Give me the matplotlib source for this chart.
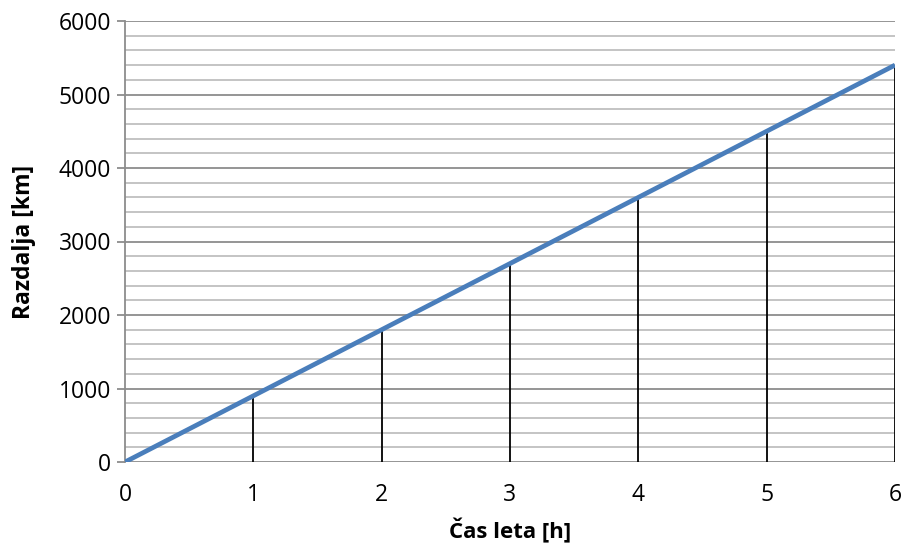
import numpy as np
import matplotlib.pyplot as plt
from matplotlib.ticker import MultipleLocator

# podatki
cas = [0, 1, 2, 3, 4, 5, 6]
razdalja = [0, 900, 1800, 2700, 3600, 4500, 5400]

plt.rcParams['font.family'] = ['Open Sans', 'DejaVu Sans']

fig = plt.figure(figsize=(9.07, 5.54), dpi=100)
ax = fig.add_axes([125 / 907, 1 - 462 / 554, 770 / 907, 441 / 554])

ax.set_xlim(0, 6)
ax.set_ylim(0, 6000)

# mreža
ax.yaxis.set_major_locator(MultipleLocator(1000))
ax.yaxis.set_minor_locator(MultipleLocator(200))
ax.grid(which='major', axis='y', color='#8c8c8c', linewidth=1.3, zorder=0)
ax.grid(which='minor', axis='y', color='#bfbfbf', linewidth=1.3, zorder=0)

# navpične črte do krivulje
ax.vlines(cas[1:], 0, razdalja[1:], color='black', linewidth=1.3, zorder=2)

ax.plot(cas, razdalja, color='#4a7ebb', linewidth=3.4, zorder=3, solid_capstyle='butt')

for s in ['top', 'right', 'bottom']:
    ax.spines[s].set_visible(False)
ax.spines['left'].set_color('#8c8c8c')
ax.spines['left'].set_linewidth(1.3)

ax.set_xticks(cas)
ax.tick_params(axis='x', length=0, labelsize=16.5, pad=15)
ax.tick_params(axis='y', which='major', length=6, width=1.3, color='#8c8c8c', labelsize=16.5, pad=4)
ax.tick_params(axis='y', which='minor', length=0)

ax.set_xlabel('Čas leta [h]', fontsize=16, fontweight='bold', labelpad=8)
ax.set_ylabel('Razdalja [km]', fontsize=16.5, fontweight='bold', labelpad=16)

fig.savefig('out.png', dpi=100)
